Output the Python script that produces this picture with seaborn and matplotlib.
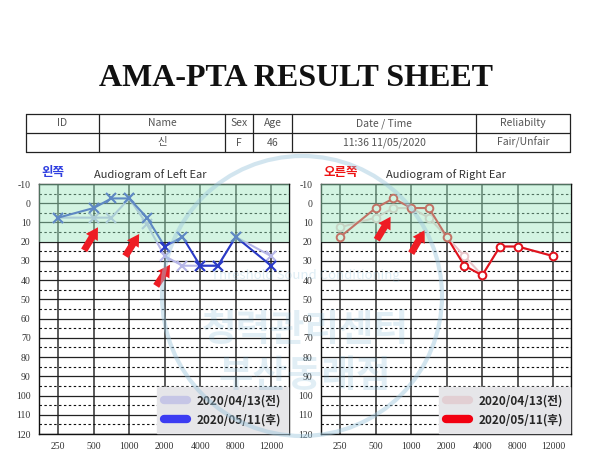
import numpy as np
import matplotlib
matplotlib.use('Agg')
import matplotlib.pyplot as plt
from matplotlib.lines import Line2D
from matplotlib.patches import Circle
import seaborn as sns


# audiometer columns and tested frequencies (Hz)
freq_cols = [250, 500, 1000, 2000, 4000, 8000, 12000]
freq_tested = [250, 500, 750, 1000, 1500, 2000, 3000, 4000, 6000, 8000, 12000]

# hearing levels (dB HL)
left_before = [7.5, 7.5, 7.5, -2.5, 11, 27.5, 32.5, 32.5, 32.5, 17.5, 27.5]
left_after = [7.5, 2.5, -2.5, -2.5, 7.5, 22.5, 17.5, 32.5, 32.5, 17.5, 32.5]
right_before = [12.5, 7.5, 2.5, 2.5, 7.5, 17.5, 27.5, 37.5, 22.5, 22.5, 27.5]
right_after = [17.5, 2.5, -2.5, 2.5, 2.5, 17.5, 32.5, 37.5, 22.5, 22.5, 27.5]

dates = ['2020/04/13(전)', '2020/05/11(후)']

table_header = ['ID', 'Name', 'Sex', 'Age', 'Date / Time', 'Reliabilty']
table_row = ['', '신', 'F', '46', '11:36 11/05/2020', 'Fair/Unfair']

W, H = 600, 462

sns.set_style("white")
plt.rcParams['font.family'] = ['Noto Sans CJK KR', 'DejaVu Sans']


def col_pos(f):
    # tested frequency -> audiogram column (half-octaves sit between columns)
    if f in freq_cols:
        return float(freq_cols.index(f))
    for i in range(len(freq_cols) - 1):
        if freq_cols[i] < f < freq_cols[i + 1]:
            return i + 0.5
    return np.nan


xpos = [col_pos(f) for f in freq_tested]


def px_axes(fig, x0, y0, x1, y1):
    return fig.add_axes([x0 / W, 1 - y1 / H, (x1 - x0) / W, (y1 - y0) / H])


def audiogram(ax, before, after, c_before, c_after, marker, arrows, leg_colors):
    ax.set_facecolor('white')
    ax.set_xlim(-0.54, 6.5)
    ax.set_ylim(120, -10)
    # grid
    for i in range(len(freq_cols)):
        ax.axvline(i, color='#5a5a5a', lw=1.4, zorder=1)
    for v in range(-10, 121, 10):
        ax.axhline(v, color='#222222', lw=0.9, zorder=1)
    for v in range(-5, 120, 10):
        ax.axhline(v, color='#111111', lw=0.8, ls=(0, (2.2, 2.2)), zorder=1)
    if marker == 'o':
        ms, mew = 5.5, 1.4
    else:
        ms, mew = 6.5, 1.5
    for vals, c, z in [(before, c_before, 3), (after, c_after, 4)]:
        sns.lineplot(x=xpos, y=vals, ax=ax, color=c, lw=1.5, marker=marker,
                     markersize=ms, markeredgewidth=mew, markeredgecolor=c,
                     markerfacecolor='white' if marker == 'o' else c, zorder=z, sort=False)
    # normal-hearing band
    ax.axhspan(-10, 20, color='#9ee8c0', alpha=0.45, lw=0, zorder=5)
    for (x0, y0, x1, y1) in arrows:
        ax.annotate('', xy=(x1, y1), xytext=(x0, y0), zorder=8,
                    arrowprops=dict(arrowstyle='simple,head_length=0.85,head_width=1.0,tail_width=0.5',
                                    mutation_scale=10, color='#ee1c24', lw=0,
                                    shrinkA=0, shrinkB=0))
    ax.set_xticks(range(len(freq_cols)))
    ax.set_xticklabels([str(f) for f in freq_cols], family='Liberation Serif', fontsize=7, color='#333333')
    ax.set_yticks(range(-10, 121, 10))
    ax.set_yticklabels([str(v) for v in range(-10, 121, 10)], family='Liberation Serif', fontsize=7, color='#333333')
    ax.tick_params(length=0, pad=6)
    ax.set_xlabel('')
    ax.set_ylabel('')
    for s in ax.spines.values():
        s.set_color('#111111')
        s.set_linewidth(1.0)
    handles = [Line2D([], [], color=c, lw=6, solid_capstyle='round') for c in leg_colors]
    leg = ax.legend(handles, dates, loc='lower right', borderaxespad=0.05, frameon=True,
                    fancybox=False, handlelength=2.0, handletextpad=0.8, borderpad=0.6,
                    labelspacing=0.5, prop={'weight': 'bold', 'size': 8.5})
    leg.get_frame().set_facecolor('#e6e6e9')
    leg.get_frame().set_edgecolor('#e6e6e9')
    leg.get_frame().set_alpha(1)
    leg.set_zorder(10)


fig = plt.figure(figsize=(W / 100, H / 100), dpi=100)

# background layer: title + patient table
bg = fig.add_axes([0, 0, 1, 1])
bg.set_xlim(0, W)
bg.set_ylim(H, 0)
bg.axis('off')
bg.text(296, 78, 'AMA-PTA RESULT SHEET', ha='center', va='center',
        family='Liberation Serif', weight='bold', fontsize=23, color='#111111')
cols = [26, 99, 225, 253, 292, 476, 570]
rows = [114, 133, 152]
for y in rows:
    bg.plot([cols[0], cols[-1]], [y, y], color='#222222', lw=0.9)
for x in cols:
    bg.plot([x, x], [rows[0], rows[-1]], color='#222222', lw=0.9)
for i in range(len(table_header)):
    cx = (cols[i] + cols[i + 1]) / 2
    bg.text(cx, (rows[0] + rows[1]) / 2, table_header[i], ha='center', va='center',
            fontsize=7.5, color='#555555')
    bg.text(cx, (rows[1] + rows[2]) / 2, table_row[i], ha='center', va='center',
            fontsize=7.5, color='#555555')

axL = px_axes(fig, 39, 184, 289, 434)
axR = px_axes(fig, 321, 184, 571, 434)

audiogram(axL, left_before, left_after, '#b6b6e8', '#2a3ac6', 'x',
          [(0.73, 24.5, 1.12, 12.5), (1.89, 27.5, 2.28, 16), (2.76, 43, 3.15, 32)],
          ['#c6c6e6', '#3c3cf2'])
audiogram(axR, right_before, right_after, '#e8c4c8', '#e0121c', 'o',
          [(1.03, 19, 1.42, 7), (2.0, 26, 2.38, 14)],
          ['#e2cfd3', '#f20010'])

fig.text(41 / W, 1 - 173 / H, '왼쪽', color='#2f3fe0', weight='bold', fontsize=9, va='center')
fig.text(150 / W, 1 - 175 / H, 'Audiogram of Left Ear', color='#333333', fontsize=8, ha='center', va='center')
fig.text(323 / W, 1 - 173 / H, '오른쪽', color='#ee1111', weight='bold', fontsize=9, va='center')
fig.text(446 / W, 1 - 175 / H, 'Audiogram of Right Ear', color='#333333', fontsize=8, ha='center', va='center')

# faint watermark on top
wm = fig.add_axes([0, 0, 1, 1], zorder=20)
wm.set_xlim(0, W)
wm.set_ylim(H, 0)
wm.axis('off')
wm.patch.set_alpha(0)
wm.add_patch(Circle((302, 296), 140, fill=False, ec='#9cc6dd', lw=3, alpha=0.45))
wm.text(305, 276, 'Threshold Sound Conditioning', ha='center', va='center',
        fontsize=9.5, color='#6aaed0', alpha=0.22)
wm.text(305, 330, '청력관리센터', ha='center', va='center', fontsize=27,
        weight='bold', color='#6aaed0', alpha=0.2)
wm.text(305, 375, '부산동래점', ha='center', va='center', fontsize=27,
        weight='bold', color='#6aaed0', alpha=0.2)

fig.savefig('out.png', dpi=100)
